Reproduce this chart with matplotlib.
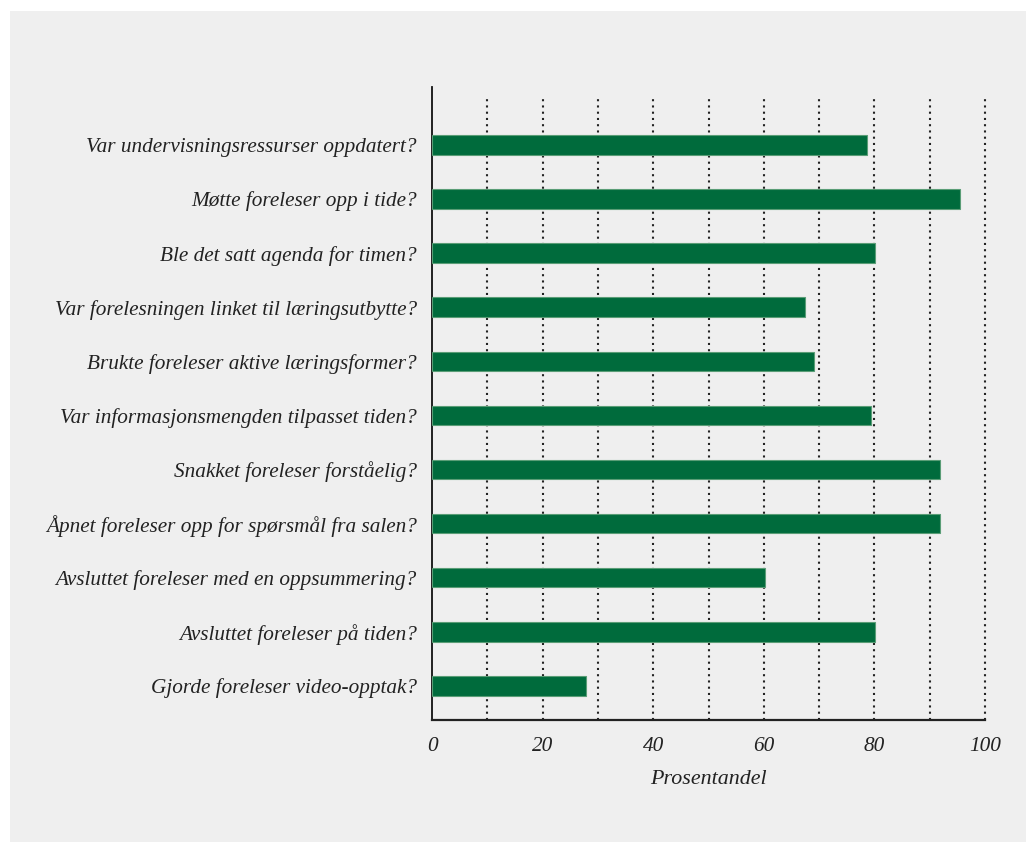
import matplotlib
matplotlib.use("Agg")
import matplotlib.pyplot as plt
from matplotlib.patches import Rectangle

questions = [
    "Var undervisningsressurser oppdatert?",
    "Møtte foreleser opp i tide?",
    "Ble det satt agenda for timen?",
    "Var forelesningen linket til læringsutbytte?",
    "Brukte foreleser aktive læringsformer?",
    "Var informasjonsmengden tilpasset tiden?",
    "Snakket foreleser forståelig?",
    "Åpnet foreleser opp for spørsmål fra salen?",
    "Avsluttet foreleser med en oppsummering?",
    "Avsluttet foreleser på tiden?",
    "Gjorde foreleser video-opptak?",
]
percent = [78.7, 95.5, 80.1, 67.5, 69.1, 79.4, 91.9, 91.9, 60.2, 80.1, 27.8]
xticks = [0, 20, 40, 60, 80, 100]
grid_x = [10, 20, 30, 40, 50, 60, 70, 80, 90, 100]

bg = "#efefef"
green = "#006b3c"
text_col = "#222222"
plt.rcParams["font.family"] = ["Liberation Serif", "DejaVu Serif"]
plt.rcParams["font.style"] = "italic"

fig = plt.figure(figsize=(10.26, 8.42), dpi=100)
fig.patch.set_facecolor("white")
fig.patches.append(Rectangle((10 / 1026, 0), 1, 1 - 11 / 842, transform=fig.transFigure,
                             facecolor=bg, edgecolor="none", zorder=-10))

ax = fig.add_axes([432 / 1026, 1 - 720 / 842, (985 - 432) / 1026, (720 - 87) / 842])
ax.set_facecolor("none")

# dotted vertical guides every 10 %
for gx in grid_x:
    ax.axvline(gx, ymax=0.988, color="#222222", linestyle=(0, (1, 2)), linewidth=1.5,
               zorder=1, clip_on=False)

ypos = list(range(len(questions)))
ax.barh(ypos, percent, height=0.36, color=green, edgecolor="#5a9d76",
        linewidth=0.8, zorder=3)

ax.set_xlim(0, 100)
ax.set_ylim(10.63, -1.07)
ax.set_yticks(ypos)
ax.set_yticklabels(questions, fontsize=15.3, color=text_col, style="italic")
ax.set_xticks(xticks)
ax.set_xticklabels([str(t) for t in xticks], fontsize=15.3, color=text_col, style="italic")
ax.tick_params(axis="both", length=0)
ax.tick_params(axis="y", pad=11)
ax.tick_params(axis="x", pad=12)
ax.set_xlabel("Prosentandel", fontsize=15.8, color=text_col, style="italic", labelpad=10)

for side in ["top", "right"]:
    ax.spines[side].set_visible(False)
ax.spines["left"].set_color("#111111")
ax.spines["left"].set_linewidth(1.3)
ax.spines["bottom"].set_color("#222222")
ax.spines["bottom"].set_linewidth(1.6)

fig.savefig("out.png", dpi=100, facecolor=fig.get_facecolor())
